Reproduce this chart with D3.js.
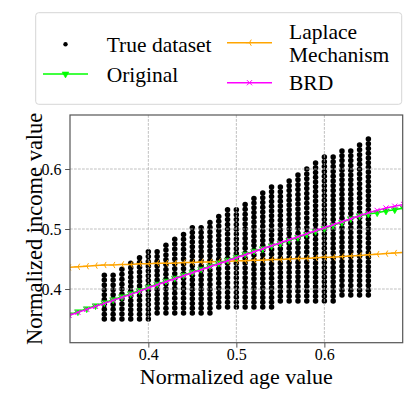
<!DOCTYPE html>
<html>
<head>
<meta charset="utf-8">
<script src="https://cdn.jsdelivr.net/npm/d3@7"></script>
<style>
  body { margin: 0; background: #fff; }
  svg { display: block; }
  text { font-family: "Liberation Serif", "Times New Roman", serif; fill: #000; }
</style>
</head>
<body>
<div class="chart"></div>
<script>
// true dataset: one column of dots per age value, from min to max income
const ageColumns = [0.35, 0.36, 0.37, 0.38, 0.39, 0.40, 0.41, 0.42, 0.43, 0.44, 0.45, 0.46, 0.47, 0.48, 0.49, 0.50,
    0.51, 0.52, 0.53, 0.54, 0.55, 0.56, 0.57, 0.58, 0.59, 0.60, 0.61, 0.62, 0.63, 0.64, 0.65];
const incomeMin = [0.350, 0.350, 0.350, 0.350, 0.350, 0.350, 0.360, 0.360, 0.360, 0.360, 0.360, 0.360, 0.360, 0.370, 0.370, 0.370,
    0.370, 0.370, 0.370, 0.370, 0.380, 0.380, 0.380, 0.380, 0.380, 0.380, 0.380, 0.390, 0.390, 0.390, 0.390];
const incomeMax = [0.423, 0.423, 0.433, 0.443, 0.452, 0.462, 0.462, 0.473, 0.483, 0.491, 0.502, 0.502, 0.511, 0.521, 0.532, 0.532,
    0.541, 0.551, 0.560, 0.570, 0.570, 0.580, 0.590, 0.600, 0.610, 0.620, 0.620, 0.630, 0.630, 0.640, 0.650];
const incomeStep = 0.008;

// fitted lines
const lineAges = [0.30, 0.31, 0.32, 0.33, 0.34, 0.35, 0.36, 0.37, 0.38, 0.39, 0.40, 0.41, 0.42, 0.43, 0.44, 0.45, 0.46, 0.47, 0.48, 0.49, 0.50,
    0.51, 0.52, 0.53, 0.54, 0.55, 0.56, 0.57, 0.58, 0.59, 0.60, 0.61, 0.62, 0.63, 0.64, 0.65, 0.66, 0.67, 0.68, 0.69, 0.70];
const originalIncome = [0.352, 0.357, 0.362, 0.367, 0.372, 0.377, 0.382, 0.387, 0.392, 0.397, 0.403, 0.408, 0.413, 0.418, 0.423, 0.428, 0.433, 0.438, 0.443, 0.448, 0.453,
    0.458, 0.463, 0.467, 0.472, 0.476, 0.481, 0.486, 0.491, 0.496, 0.501, 0.506, 0.511, 0.517, 0.522, 0.525, 0.527, 0.530, 0.532, 0.535, 0.537];
const laplaceIncome = [0.435, 0.436, 0.437, 0.438, 0.439, 0.440, 0.440, 0.441, 0.441, 0.442, 0.442, 0.443, 0.443, 0.443, 0.444, 0.444, 0.445, 0.445, 0.446, 0.446, 0.447,
    0.447, 0.448, 0.448, 0.449, 0.449, 0.450, 0.451, 0.451, 0.452, 0.453, 0.453, 0.454, 0.455, 0.456, 0.457, 0.458, 0.459, 0.460, 0.461, 0.462];
const brdIncome = [0.351, 0.356, 0.361, 0.366, 0.371, 0.376, 0.381, 0.386, 0.391, 0.396, 0.402, 0.407, 0.412, 0.417, 0.422, 0.427, 0.432, 0.437, 0.442, 0.447, 0.452,
    0.457, 0.462, 0.467, 0.472, 0.477, 0.482, 0.487, 0.492, 0.497, 0.502, 0.507, 0.512, 0.517, 0.522, 0.527, 0.531, 0.535, 0.538, 0.541, 0.544];

const xTicks = [0.4, 0.5, 0.6];
const yTicks = [0.4, 0.5, 0.6];
const xLabel = 'Normalized age value';
const yLabel = 'Normalized income value';

const width = 415, height = 399;
const plot = { left: 70, top: 115, right: 402.7, bottom: 342.7 };
const serif = '"Liberation Serif", "Times New Roman", serif';

const svg = d3.select('div.chart').append('svg').attr('width', width).attr('height', height);

const x = d3.scaleLinear().domain([0.311, 0.689]).range([plot.left, plot.right]);
const y = d3.scaleLinear().domain([0.3105, 0.69]).range([plot.bottom, plot.top]);

svg.append('clipPath').attr('id', 'plot-clip')
    .append('rect')
    .attr('x', plot.left).attr('y', plot.top)
    .attr('width', plot.right - plot.left).attr('height', plot.bottom - plot.top);

// scatter of the true dataset
const dots = [];
ageColumns.forEach((age, i) => {
    const n = Math.round((incomeMax[i] - incomeMin[i]) / incomeStep);
    for (let k = 0; k <= n; k++) dots.push({ age, income: incomeMin[i] + k * (incomeMax[i] - incomeMin[i]) / n });
});
svg.append('g').classed('true-dataset', true)
    .selectAll('circle')
    .data(dots)
    .enter()
    .append('circle')
    .attr('cx', d => x(d.age))
    .attr('cy', d => y(d.income))
    .attr('r', 2.75)
    .attr('fill', '#000');

// grid (matplotlib draws it above the scatter)
const grid = svg.append('g').classed('grid', true)
    .attr('stroke', '#b0b0b0').attr('stroke-width', 0.8).attr('stroke-dasharray', '2.8,1.2');
grid.selectAll('line.gx').data(xTicks).enter().append('line')
    .attr('x1', d => x(d)).attr('x2', d => x(d)).attr('y1', plot.top).attr('y2', plot.bottom);
grid.selectAll('line.gy').data(yTicks).enter().append('line')
    .attr('y1', d => y(d)).attr('y2', d => y(d)).attr('x1', plot.left).attr('x2', plot.right);

const markers = {
    triangleDown: sel => sel.append('path')
        .attr('d', d3.symbol().type(d3.symbolTriangle).size(20)())
        .attr('transform', 'rotate(180)')
        .attr('fill', 'lime').attr('stroke', 'lime').attr('stroke-width', 0.6),
    triLeft: sel => sel.append('path')
        .attr('d', 'M0,0H-3.6M0,0L1.8,-3.1M0,0L1.8,3.1')
        .attr('fill', 'none').attr('stroke', 'orange').attr('stroke-width', 1),
    cross: sel => sel.append('path')
        .attr('d', 'M-2.6,-2.6L2.6,2.6M-2.6,2.6L2.6,-2.6')
        .attr('fill', 'none').attr('stroke', 'magenta').attr('stroke-width', 1)
};

const series = [
    { name: 'Laplace', values: laplaceIncome, color: 'orange', marker: markers.triLeft },
    { name: 'Original', values: originalIncome, color: 'lime', marker: markers.triangleDown },
    { name: 'BRD', values: brdIncome, color: 'magenta', marker: markers.cross }
];

const lineGen = d3.line().x(d => x(d[0])).y(d => y(d[1]));
const linesGroup = svg.append('g').classed('lines', true).attr('clip-path', 'url(#plot-clip)');
series.forEach(s => {
    const pts = lineAges.map((a, i) => [a, s.values[i]]);
    const g = linesGroup.append('g');
    g.append('path').datum(pts)
        .attr('d', lineGen)
        .attr('fill', 'none').attr('stroke', s.color).attr('stroke-width', 1.5);
    g.selectAll('g.m').data(pts).enter().append('g')
        .attr('transform', d => `translate(${x(d[0])},${y(d[1])})`)
        .call(s.marker);
});

// axes
const xAxis = d3.axisBottom(x).tickValues(xTicks).tickFormat(d3.format('.1f')).tickSize(4.9).tickPadding(1);
const yAxis = d3.axisLeft(y).tickValues(yTicks).tickFormat(d3.format('.1f')).tickSize(4.9).tickPadding(3.5);
svg.append('g').classed('x-axis', true).attr('transform', `translate(0,${plot.bottom})`).call(xAxis);
svg.append('g').classed('y-axis', true).attr('transform', `translate(${plot.left},0)`).call(yAxis);
svg.selectAll('.x-axis .domain, .y-axis .domain').remove();
svg.selectAll('.tick line').attr('stroke', '#444').attr('stroke-width', 0.9);
svg.selectAll('.tick text').style('font-size', '16px').style('font-family', serif).attr('fill', '#000');

svg.append('rect').classed('frame', true)
    .attr('x', plot.left).attr('y', plot.top)
    .attr('width', plot.right - plot.left).attr('height', plot.bottom - plot.top)
    .attr('fill', 'none').attr('stroke', '#555').attr('stroke-width', 1.2);

svg.append('text').attr('x', (plot.left + plot.right) / 2).attr('y', 384)
    .attr('text-anchor', 'middle').style('font-size', '22px').text(xLabel);
svg.append('text').attr('transform', `translate(42,${(plot.top + plot.bottom) / 2}) rotate(-90)`)
    .attr('text-anchor', 'middle').style('font-size', '22.5px').text(yLabel);

// legend
const legend = svg.append('g').classed('legend', true);
legend.append('rect')
    .attr('x', 35.7).attr('y', 12.7).attr('width', 366).attr('height', 91.6).attr('rx', 3)
    .attr('fill', '#fff').attr('stroke', '#d6d6d6').attr('stroke-width', 1);

const legendItems = [
    { label: ['True dataset'], lx: 43, ly: 44.3, tx: 106.7, type: 'dot' },
    { label: ['Original'], lx: 43, ly: 74, tx: 106.7, series: series[1] },
    { label: ['Laplace', 'Mechanism'], lx: 227, ly: 42.7, tx: 289, series: series[0] },
    { label: ['BRD'], lx: 227, ly: 82.7, tx: 289, series: series[2] }
];
legendItems.forEach(item => {
    const g = legend.append('g');
    if (item.type === 'dot') {
        g.append('circle').attr('cx', item.lx + 22.5).attr('cy', item.ly).attr('r', 2.2).attr('fill', '#000');
    } else {
        g.append('line').attr('x1', item.lx).attr('x2', item.lx + 45).attr('y1', item.ly).attr('y2', item.ly)
            .attr('stroke', item.series.color).attr('stroke-width', 1.5);
        g.append('g').attr('transform', `translate(${item.lx + 22.5},${item.ly})`).call(item.series.marker);
    }
    const lineGap = 23.3;
    const firstBaseline = item.ly + 7.5 - (item.label.length - 1) * lineGap / 2;
    item.label.forEach((t, i) => {
        g.append('text').attr('x', item.tx).attr('y', firstBaseline + i * lineGap)
            .style('font-size', '21.5px').text(t);
    });
});
</script>
</body>
</html>
